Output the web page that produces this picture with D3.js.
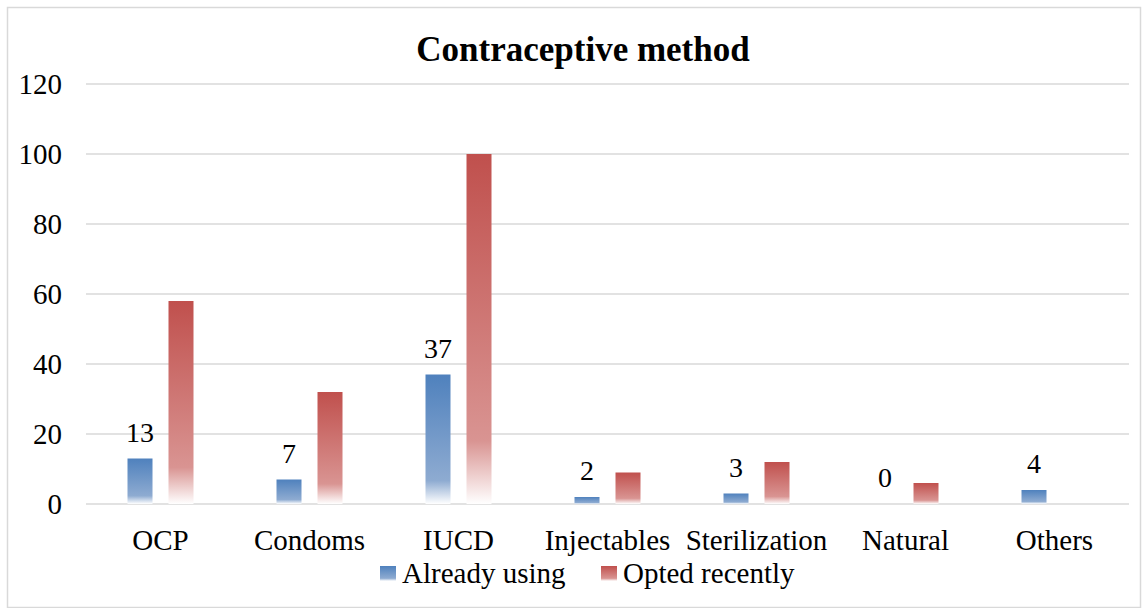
<!DOCTYPE html>
<html>
<head>
<meta charset="utf-8">
<script src="https://cdn.jsdelivr.net/npm/d3@7"></script>
<style>
  html, body { margin: 0; padding: 0; background: #fff; }
  svg { display: block; }
</style>
</head>
<body>
<svg id="chart" width="1148" height="608"></svg>
<script>
// Contraceptive method counts by category
const categories = ["OCP", "Condoms", "IUCD", "Injectables", "Sterilization", "Natural", "Others"];
const alreadyUsing = [13, 7, 37, 2, 3, 0, 4];
const optedRecently = [58, 32, 100, 9, 12, 6, 0];
const yTicks = [0, 20, 40, 60, 80, 100, 120];
const seriesNames = ["Already using", "Opted recently"];

const FONT = '"Liberation Serif", "Times New Roman", serif';
const FS = 29;

const svg = d3.select("#chart");
const W = 1148, H = 608;
const margin = { left: 86, right: 19 };
const plotW = W - margin.left - margin.right;

// outer frame
svg.append("rect")
  .attr("x", 7.5).attr("y", 7.5).attr("width", W - 15).attr("height", H - 8)
  .attr("fill", "#fff").attr("stroke", "#D9D9D9").attr("stroke-width", 1.5);

// gradients for the two series
const defs = svg.append("defs");
function makeGrad(id, top, mid) {
  const g = defs.append("linearGradient").attr("id", id)
    .attr("x1", 0).attr("y1", 0).attr("x2", 0).attr("y2", 1);
  g.append("stop").attr("offset", "0%").attr("stop-color", top);
  g.append("stop").attr("offset", "82%").attr("stop-color", mid);
  g.append("stop").attr("offset", "100%").attr("stop-color", "#ffffff");
}
makeGrad("gBlue", "#4F81BD", "#8EABD1");
makeGrad("gRed", "#C0504D", "#D99492");

const x = d3.scaleBand().domain(categories).range([margin.left, margin.left + plotW]);
const y = d3.scaleLinear().domain([0, 120]).range([504, 84]);

// gridlines
svg.append("g").selectAll("line").data(yTicks).join("line")
  .attr("x1", margin.left).attr("x2", margin.left + plotW)
  .attr("y1", d => y(d)).attr("y2", d => y(d))
  .attr("stroke", "#D9D9D9").attr("stroke-width", 1.5);

// y-axis labels
const yAxis = d3.axisLeft(y).tickValues(yTicks).tickSize(0).tickPadding(0);
const yg = svg.append("g").attr("transform", "translate(62,0)").call(yAxis)
  .attr("font-family", FONT).attr("font-size", FS);
yg.select(".domain").remove();
yg.selectAll("text").attr("fill", "#000").attr("dy", "0.33em");

// x-axis labels
const xAxis = d3.axisBottom(x).tickSize(0).tickPadding(0);
const xg = svg.append("g").attr("transform", "translate(0,550)").call(xAxis)
  .attr("font-family", FONT).attr("font-size", FS);
xg.select(".domain").remove();
xg.selectAll("text").attr("fill", "#000").attr("dy", "0");

const barW = 25, offset = 20.5;
const bars = svg.append("g");
bars.selectAll(".b1").data(categories).join("rect").attr("class", "b1")
  .attr("x", d => x(d) + x.bandwidth() / 2 - offset - barW / 2)
  .attr("width", barW)
  .attr("y", (d, i) => y(alreadyUsing[i]))
  .attr("height", (d, i) => y(0) - y(alreadyUsing[i]))
  .attr("fill", "url(#gBlue)");
bars.selectAll(".b2").data(categories).join("rect").attr("class", "b2")
  .attr("x", d => x(d) + x.bandwidth() / 2 + offset - barW / 2)
  .attr("width", barW)
  .attr("y", (d, i) => y(optedRecently[i]))
  .attr("height", (d, i) => y(0) - y(optedRecently[i]))
  .attr("fill", "url(#gRed)");

// value labels for the first series
svg.append("g").attr("font-family", FONT).selectAll("text").data(categories).join("text")
  .attr("x", d => x(d) + x.bandwidth() / 2 - offset)
  .attr("y", (d, i) => y(alreadyUsing[i]) - 17)
  .attr("text-anchor", "middle").attr("font-size", 28).attr("fill", "#000")
  .text((d, i) => alreadyUsing[i]);

// title
svg.append("text").attr("x", 583).attr("y", 61).attr("text-anchor", "middle")
  .attr("font-family", FONT)
  .attr("font-size", 35).attr("font-weight", "bold").attr("fill", "#000")
  .text("Contraceptive method");

// legend
const legend = svg.append("g").attr("font-family", FONT);
const legendItems = [
  { name: seriesNames[0], grad: "url(#gBlue)", x: 380 },
  { name: seriesNames[1], grad: "url(#gRed)", x: 601 }
];
legendItems.forEach(it => {
  legend.append("rect").attr("x", it.x).attr("y", 566).attr("width", 16).attr("height", 15)
    .attr("fill", it.grad);
  legend.append("text").attr("x", it.x + 22).attr("y", 583).attr("font-size", FS)
    .attr("fill", "#000").text(it.name);
});
</script>
</body>
</html>
